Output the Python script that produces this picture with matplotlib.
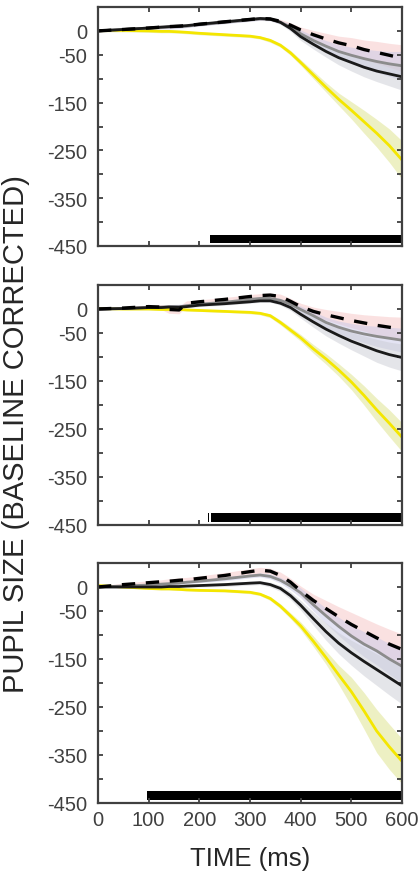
import matplotlib
matplotlib.use("Agg")
import matplotlib.pyplot as plt
import numpy as np

plt.rcParams['font.family'] = ['Liberation Sans', 'DejaVu Sans']

# ---------------- data ----------------
time_ms = [0, 50, 100, 125, 140, 160, 175, 200, 250, 300, 320, 340, 360, 380,
           400, 425, 450, 475, 500, 525, 550, 575, 600]

# panel 1
p1_yellow = [1, 1, 0, -1, -1, -2, -3, -5, -8, -11, -14, -20, -30, -46, -66, -92, -118, -143, -166, -190, -214, -240, -270]
p1_yellow_sem = [3, 3, 3, 3, 3, 3, 3, 3, 3, 3, 3, 4, 4, 5, 6, 8, 10, 13, 18, 24, 29, 35, 40]
p1_black = [0, 3, 6, 8, 9, 10, 11, 14, 19, 24, 26, 25, 18, 5, -12, -28, -43, -56, -66, -76, -84, -90, -96]
p1_black_sem = [2, 2, 3, 3, 3, 3, 3, 3, 3, 3, 3, 3, 4, 6, 8, 10, 12, 15, 18, 20, 22, 25, 28]
p1_gray = [0, 3, 6, 7, 8, 9, 10, 13, 18, 23, 25, 24, 18, 8, -6, -20, -32, -43, -51, -58, -64, -69, -73]
p1_gray_sem = [2, 2, 3, 3, 4, 4, 3, 3, 3, 3, 3, 3, 4, 6, 8, 10, 12, 14, 17, 20, 23, 26, 30]
p1_dash = [0, 3, 6, 8, 9, 10, 11, 14, 19, 24, 26, 25, 20, 12, 2, -8, -17, -25, -31, -39, -45, -51, -57]
p1_dash_sem = [2, 2, 3, 3, 3, 3, 3, 3, 3, 3, 3, 3, 4, 5, 6, 9, 12, 14, 17, 20, 23, 25, 28]

# panel 2
p2_yellow = [1, 0, 0, -1, -1, -1, -2, -3, -5, -7, -9, -14, -28, -44, -60, -83, -104, -127, -152, -180, -210, -238, -267]
p2_yellow_sem = [2, 2, 2, 2, 2, 2, 2, 2, 2, 3, 3, 4, 5, 6, 7, 9, 11, 13, 16, 20, 24, 28, 30]
p2_black = [0, 1, 3, 3, 4, 4, 5, 8, 11, 15, 17, 17, 12, 3, -11, -27, -42, -55, -67, -77, -87, -95, -101]
p2_black_sem = [2, 2, 3, 3, 3, 3, 3, 3, 3, 3, 3, 3, 4, 6, 8, 11, 14, 16, 18, 21, 24, 26, 28]
p2_gray = [0, 1, 3, 4, 5, 4, 7, 10, 14, 20, 22, 22, 18, 10, -1, -14, -28, -38, -46, -52, -57, -61, -65]
p2_gray_sem = [2, 2, 3, 3, 4, 6, 4, 3, 3, 3, 3, 3, 4, 5, 7, 9, 11, 13, 16, 18, 21, 23, 25]
p2_dash = [0, 2, 5, 4, -1, -2, 12, 15, 20, 26, 28, 29, 26, 16, 5, -5, -12, -18, -24, -29, -34, -38, -42]
p2_dash_sem = [2, 2, 3, 5, 8, 8, 5, 4, 4, 4, 4, 4, 5, 6, 7, 9, 11, 13, 15, 17, 20, 22, 25]

# panel 3
p3_yellow = [3, 0, -3, -4, -4, -5, -6, -7, -8, -11, -15, -24, -40, -60, -81, -113, -147, -183, -218, -258, -300, -333, -363]
p3_yellow_sem = [2, 2, 2, 2, 2, 2, 2, 2, 2, 3, 3, 4, 5, 6, 8, 11, 14, 20, 30, 38, 45, 47, 47]
p3_black = [0, 0, 0, 0, 1, 1, 2, 3, 5, 8, 9, 5, -3, -18, -38, -66, -93, -117, -137, -155, -172, -189, -206]
p3_black_sem = [2, 2, 3, 3, 3, 3, 3, 3, 4, 4, 4, 5, 6, 8, 10, 14, 18, 22, 26, 30, 33, 36, 38]
p3_gray = [0, 2, 4, 6, 7, 8, 10, 12, 17, 23, 25, 22, 14, 2, -12, -37, -60, -82, -102, -119, -133, -150, -165]
p3_gray_sem = [2, 2, 3, 3, 3, 3, 3, 3, 4, 4, 4, 5, 6, 8, 10, 13, 16, 19, 22, 26, 29, 32, 35]
p3_dash = [0, 5, 9, 11, 12, 14, 15, 18, 24, 32, 35, 33, 24, 10, -8, -28, -45, -62, -78, -92, -106, -119, -130]
p3_dash_sem = [2, 3, 4, 4, 5, 5, 5, 5, 6, 6, 6, 6, 7, 8, 10, 13, 17, 21, 25, 27, 29, 31, 32]

# significance bars (start, end) in ms
p1_sig = [(222, 600)]
p2_sig = [(218, 219.5), (224, 600)]
p3_sig = [(97, 600)]
sig_bar_y = (-444, -426)

x_ticks = [0, 100, 200, 300, 400, 500, 600]
y_ticks = [0, -50, -100, -150, -200, -250, -300, -350, -400, -450]
y_ticklabels = ['0', '-50', '', '-150', '', '-250', '', '-350', '', '-450']

panels = [
    (p1_yellow, p1_yellow_sem, p1_black, p1_black_sem, p1_gray, p1_gray_sem, p1_dash, p1_dash_sem, p1_sig),
    (p2_yellow, p2_yellow_sem, p2_black, p2_black_sem, p2_gray, p2_gray_sem, p2_dash, p2_dash_sem, p2_sig),
    (p3_yellow, p3_yellow_sem, p3_black, p3_black_sem, p3_gray, p3_gray_sem, p3_dash, p3_dash_sem, p3_sig),
]

# ---------------- figure ----------------
W, H = 420, 879
fig = plt.figure(figsize=(W / 100, H / 100), dpi=100)

axes_px = [(8, 247), (286, 526), (564, 804)]  # top, bottom in pixels
left_px, right_px = 98, 402

spine_c = '#404040'
t = np.array(time_ms)

for i, (ax_top, ax_bot) in enumerate(axes_px):
    ax = fig.add_axes([left_px / W, 1 - ax_bot / H, (right_px - left_px) / W, (ax_bot - ax_top) / H])
    yl, yls, bl, bls, gl, gls, dl, dls, sig = panels[i]

    def band(vals, sem, color):
        v = np.array(vals, float); s = np.array(sem, float)
        ax.fill_between(t, v - s, v + s, color=color, alpha=0.5, lw=0)

    band(dl, dls, '#F7C4C4')
    band(gl, gls, '#C8C8E8')
    band(bl, bls, '#CBCCD4')
    band(yl, yls, '#DDE288')

    ax.plot(t, yl, color='#F4E600', lw=2.0)
    ax.plot(t, gl, color='#8C8C8C', lw=2.0)
    ax.plot(t, bl, color='#1A1A1A', lw=2.0)
    ax.plot(t, dl, color='black', lw=2.4, linestyle=(0, (4, 3.2)))

    for (s0, s1) in sig:
        ax.fill_between([s0, s1], sig_bar_y[0], sig_bar_y[1], color='black', lw=0)

    ax.set_xlim(0, 600)
    ax.set_ylim(-450, 50)
    ax.set_xticks(x_ticks)
    ax.set_yticks(y_ticks)
    ax.set_yticklabels(y_ticklabels)
    if i < 2:
        ax.set_xticklabels([])
    else:
        ax.set_xticklabels([str(v) for v in x_ticks])
    ax.tick_params(direction='in', top=True, right=True, length=3.5, width=1.3,
                   color=spine_c, labelcolor='#404040', labelsize=14.5)
    ax.tick_params(axis='y', pad=8)
    ax.tick_params(axis='x', pad=5)
    for sp in ax.spines.values():
        sp.set_color(spine_c)
        sp.set_linewidth(1.6)
    if i == 2:
        ax.set_xlabel('TIME (ms)', fontsize=18.5, color='#262626', labelpad=12)

fig.text(16 / W, 1 - 434 / H, 'PUPIL SIZE (BASELINE CORRECTED)', rotation=90,
         ha='center', va='center', fontsize=21, color='#262626')

fig.savefig('out.png', dpi=100)
